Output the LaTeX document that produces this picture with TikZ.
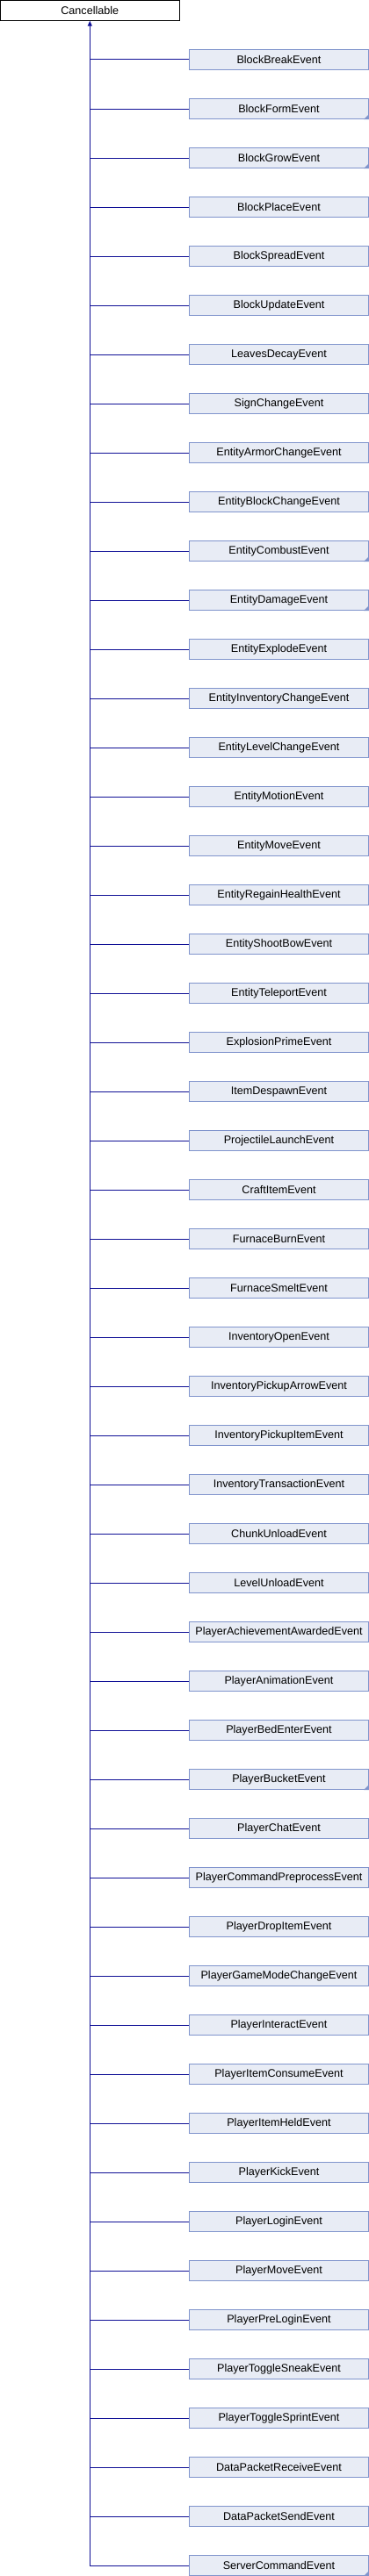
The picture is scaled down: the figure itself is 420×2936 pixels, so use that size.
\documentclass[tikz,border=0pt]{standalone}
\usepackage{fontspec}
\setmainfont{Liberation Sans}
\usetikzlibrary{arrows.meta}
\definecolor{edgeblue}{RGB}{16,16,150}
\definecolor{boxfill}{RGB}{232,236,245}
\definecolor{boxline}{RGB}{128,148,204}
\tikzset{
  basebox/.style={draw=black, fill=white, line width=1pt, minimum width=204pt, minimum height=23pt, inner sep=0pt, font=\fontsize{12.6}{14}\selectfont},
  childbox/.style={draw=boxline, fill=boxfill, line width=1pt, minimum width=204pt, minimum height=23pt, inner sep=0pt, font=\fontsize{12.6}{14}\selectfont},
  link/.style={draw=edgeblue, line width=1pt},
}
\begin{document}
\begin{tikzpicture}[x=1pt,y=-1pt]
\useasboundingbox (0,0) rectangle (420,2936);
\node[basebox] (c) at (102.3,11.7) {Cancellable};
\foreach \nm/\fl [count=\i from 0] in {
BlockBreakEvent/0, BlockFormEvent/1, BlockGrowEvent/1, BlockPlaceEvent/0,
BlockSpreadEvent/0, BlockUpdateEvent/0, LeavesDecayEvent/0, SignChangeEvent/0,
EntityArmorChangeEvent/0, EntityBlockChangeEvent/0, EntityCombustEvent/1, EntityDamageEvent/1,
EntityExplodeEvent/0, EntityInventoryChangeEvent/0, EntityLevelChangeEvent/0, EntityMotionEvent/0,
EntityMoveEvent/0, EntityRegainHealthEvent/0, EntityShootBowEvent/0, EntityTeleportEvent/0,
ExplosionPrimeEvent/0, ItemDespawnEvent/0, ProjectileLaunchEvent/0, CraftItemEvent/0,
FurnaceBurnEvent/0, FurnaceSmeltEvent/0, InventoryOpenEvent/0, InventoryPickupArrowEvent/0,
InventoryPickupItemEvent/0, InventoryTransactionEvent/0, ChunkUnloadEvent/0, LevelUnloadEvent/0,
PlayerAchievementAwardedEvent/0, PlayerAnimationEvent/0, PlayerBedEnterEvent/0, PlayerBucketEvent/1,
PlayerChatEvent/0, PlayerCommandPreprocessEvent/0, PlayerDropItemEvent/0, PlayerGameModeChangeEvent/0,
PlayerInteractEvent/0, PlayerItemConsumeEvent/0, PlayerItemHeldEvent/0, PlayerKickEvent/0,
PlayerLoginEvent/0, PlayerMoveEvent/0, PlayerPreLoginEvent/0, PlayerToggleSneakEvent/0,
PlayerToggleSprintEvent/0, DataPacketReceiveEvent/0, DataPacketSendEvent/0, ServerCommandEvent/1} {
  \node[childbox] (n\i) at (317.5,{68+56*\i}) {\nm};
  \draw[link] (n\i.west) -- (n\i.west -| c.south);
  \ifnum\fl=1
    \fill[boxline] (n\i.south east) -- ++(-6,0) -- ++(6,-6) -- cycle;
  \fi
}
\draw[link, -{Triangle[length=6pt,width=5pt]}] (n51.west -| c.south) -- (c.south);
\end{tikzpicture}
\end{document}
